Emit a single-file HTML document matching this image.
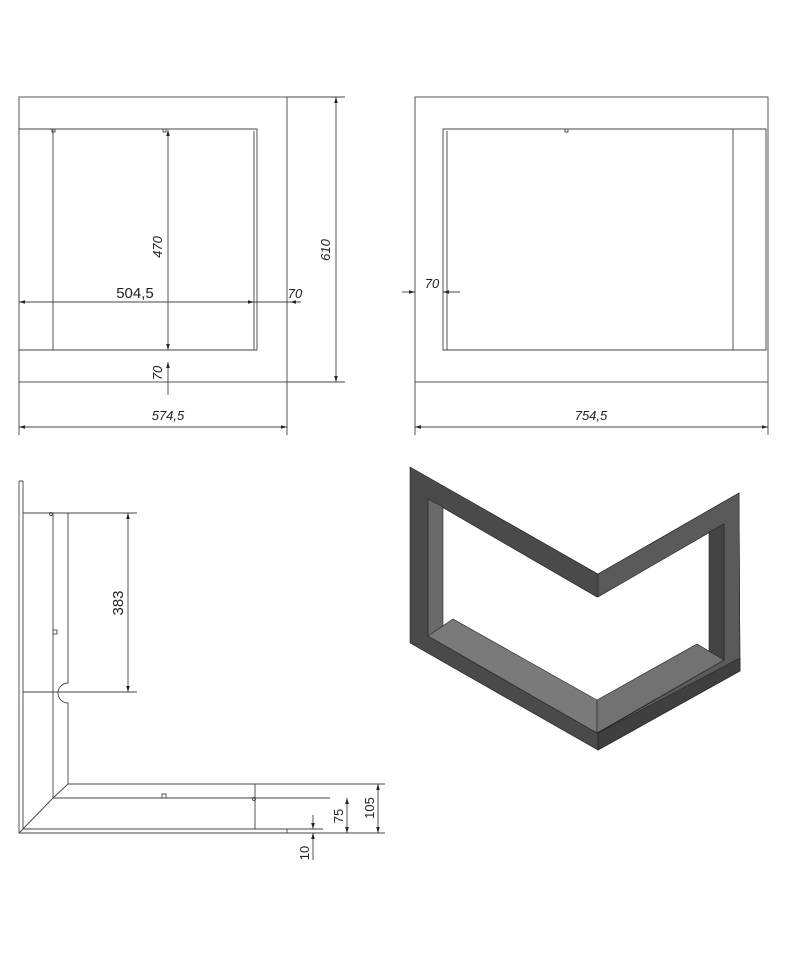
<!DOCTYPE html>
<html><head><style>body{margin:0;background:#fff}svg{display:block}</style></head><body>
<svg width="800" height="960" viewBox="0 0 800 960" xmlns="http://www.w3.org/2000/svg" font-family="Liberation Sans, sans-serif">
<defs>
<marker id="a" viewBox="0 0 10 6" refX="10" refY="3" markerWidth="8" markerHeight="4" orient="auto-start-reverse"><path d="M0,0L10,3L0,6z" fill="#222"/></marker>
</defs>
<g stroke="#444" stroke-width="0.9" fill="none">
<rect x="19" y="97" width="268" height="285"/>
<path d="M19,129H257V350H19M53,129V350M254,131V350M257,129V350"/>
<path d="M287,97H345M287,382H345M168,382V395M19,382V435M287,382V435M19,302H300"/>
<line x1="336" y1="97" x2="336" y2="382" marker-start="url(#a)" marker-end="url(#a)"/>
<line x1="168" y1="130" x2="168" y2="350" marker-start="url(#a)" marker-end="url(#a)"/>
<line x1="168" y1="362" x2="168" y2="383" marker-start="url(#a)"/>
<line x1="19" y1="302" x2="254" y2="302" marker-start="url(#a)" marker-end="url(#a)"/>
<line x1="290" y1="302" x2="301" y2="302" marker-start="url(#a)"/>
<line x1="19" y1="427" x2="287" y2="427" marker-start="url(#a)" marker-end="url(#a)"/>
<rect x="52" y="129" width="3" height="3"/><rect x="163" y="129" width="3" height="3"/>
<rect x="415" y="97" width="353" height="285"/>
<path d="M443,129H766V350H443ZM447,131V350M733,129V350M415,382V435M768,382V435"/>
<rect x="565" y="129" width="3" height="3"/>
<line x1="415" y1="427" x2="768" y2="427" marker-start="url(#a)" marker-end="url(#a)"/>
<line x1="402" y1="292" x2="415" y2="292" marker-end="url(#a)"/>
<line x1="460" y1="292" x2="443" y2="292" marker-end="url(#a)"/>
<path d="M19,481V833H385M23,481V829H323M19,481H23M23,513H137M53,513V798M68,513V683A10,10 0 0 0 68,703V784H385M53,798H330M19,833L53,798L68,784M255,784V829M287,829V833M23,692H137"/>
<line x1="128" y1="513" x2="128" y2="692" marker-start="url(#a)" marker-end="url(#a)"/>
<line x1="347" y1="798" x2="347" y2="833" marker-start="url(#a)" marker-end="url(#a)"/>
<line x1="378" y1="784" x2="378" y2="833" marker-start="url(#a)" marker-end="url(#a)"/>
<line x1="313" y1="815" x2="313" y2="829" marker-end="url(#a)"/>
<line x1="313" y1="860" x2="313" y2="833" marker-end="url(#a)"/>
<circle cx="51" cy="514" r="1.5"/><rect x="53" y="630" width="4" height="4"/><rect x="162" y="794" width="4" height="4"/><circle cx="254" cy="799" r="1.5"/>
</g>
<g fill="#222" font-size="13" font-style="italic">
<text x="162" y="247" transform="rotate(-90 162 247)" text-anchor="middle">470</text>
<text x="330" y="250" transform="rotate(-90 330 250)" text-anchor="middle">610</text>
<text x="162" y="373" transform="rotate(-90 162 373)" text-anchor="middle">70</text>
<text x="295" y="298" text-anchor="middle">70</text>
<text x="432" y="288" text-anchor="middle">70</text>
<text x="168" y="420" text-anchor="middle">574,5</text>
<text x="591" y="420" text-anchor="middle">754,5</text>
<text x="343" y="816" transform="rotate(-90 343 816)" text-anchor="middle" font-style="normal">75</text>
<text x="374" y="808" transform="rotate(-90 374 808)" text-anchor="middle" font-style="normal">105</text>
<text x="309" y="853" transform="rotate(-90 309 853)" text-anchor="middle" font-style="normal">10</text>
</g>
<text x="135" y="298" font-size="15" text-anchor="middle" fill="#222">504,5</text>
<text x="123" y="603" font-size="15" text-anchor="middle" fill="#222" transform="rotate(-90 123 603)">383</text>
<g stroke="#222" stroke-width="0.6">
<path fill="#4a4a4a" fill-rule="evenodd" d="M410,467L598,574L739,493L740,671L598,750L410,643Z M428,499L597,597L724,524L724,660L597,733L428,636Z"/>
<path fill="#5a5a5a" d="M598,574L739,493L740,671L598,750V733L724,660V524L598,597Z"/>
<path fill="#6a6a6a" d="M428,499L443,507V630L428,636Z"/>
<path fill="#444" d="M709,532L724,524V660L709,652Z"/>
<path fill="#7a7a7a" d="M428,636L453,619L597,700V733Z"/>
<path fill="#727272" d="M597,700L697,644L724,660L597,733Z"/>
<path fill="#3f3f3f" d="M598,733V750L740,671V658Z"/>
</g>
</svg>
</body></html>
